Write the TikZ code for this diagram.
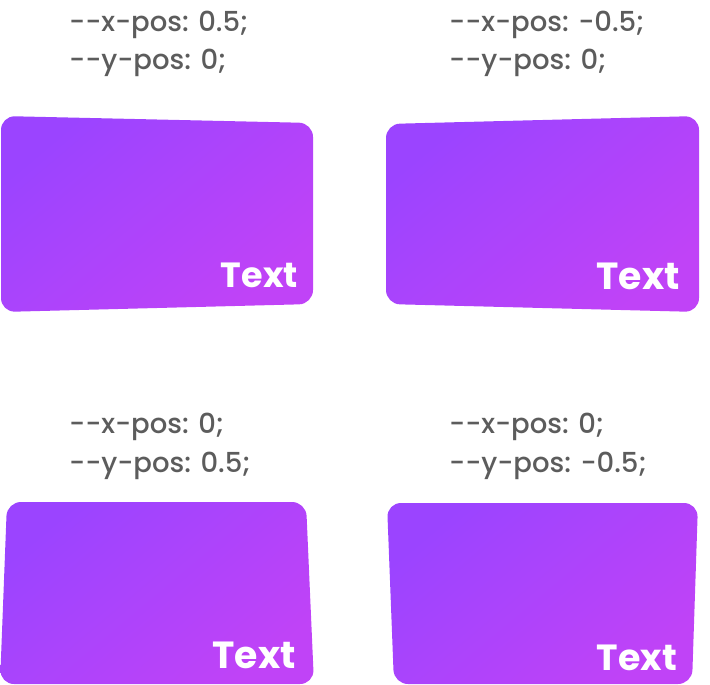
\documentclass[tikz,border=0pt]{standalone}
\usepackage{fontspec}
\setmainfont{Poppins}
\newfontfamily\lblfont{Poppins}[UprightFont={* Medium}]
\begin{document}
\begin{tikzpicture}[x=1pt,y=1pt,
  card/.style={rounded corners=14pt, top color=cardA, bottom color=cardB, shading angle=40},
  lbl/.style={anchor=base west, inner sep=0pt, text=lblgray, font=\lblfont\fontsize{27.5}{30}\selectfont},
  cardtext/.style={anchor=base east, inner sep=0pt, text=white, font=\bfseries\fontsize{35}{37}\selectfont}]
\definecolor{cardA}{HTML}{9B44FF}
\definecolor{cardB}{HTML}{C043F7}
\definecolor{lblgray}{HTML}{5C5C5C}
\useasboundingbox (0,0) rectangle (710,-685);
% cards
\shade[card] (1,-116) -- (313,-123) -- (313,-304) -- (1,-312) -- cycle;
\shade[card] (386,-124) -- (699,-116) -- (699,-312) -- (386,-304) -- cycle;
\shade[card] (7,-502) -- (306,-502) -- (314,-684) -- (0,-684) -- cycle;
\shade[card] (387,-503) -- (698,-503) -- (692,-684) -- (394,-684) -- cycle;
% card texts
\node[cardtext] (t1) at (298,-287) {Text};
\node[cardtext, scale=1.08] (t2) at (680,-289) {Text};
\node[cardtext, scale=1.08] (t3) at (296,-668) {Text};
\node[cardtext, scale=1.04] (t4) at (677,-670) {Text};
% labels
\node[lbl] (l1a) at (69,-32) {-{}-x-pos: 0.5;};
\node[lbl] (l1b) at (69,-70) {-{}-y-pos: 0;};
\node[lbl] (l2a) at (449,-32) {-{}-x-pos: -0.5;};
\node[lbl] (l2b) at (449,-70) {-{}-y-pos: 0;};
\node[lbl] (l3a) at (69,-433) {-{}-x-pos: 0;};
\node[lbl] (l3b) at (69,-472) {-{}-y-pos: 0.5;};
\node[lbl] (l4a) at (449,-433) {-{}-x-pos: 0;};
\node[lbl] (l4b) at (449,-472) {-{}-y-pos: -0.5;};
\end{tikzpicture}
\end{document}
